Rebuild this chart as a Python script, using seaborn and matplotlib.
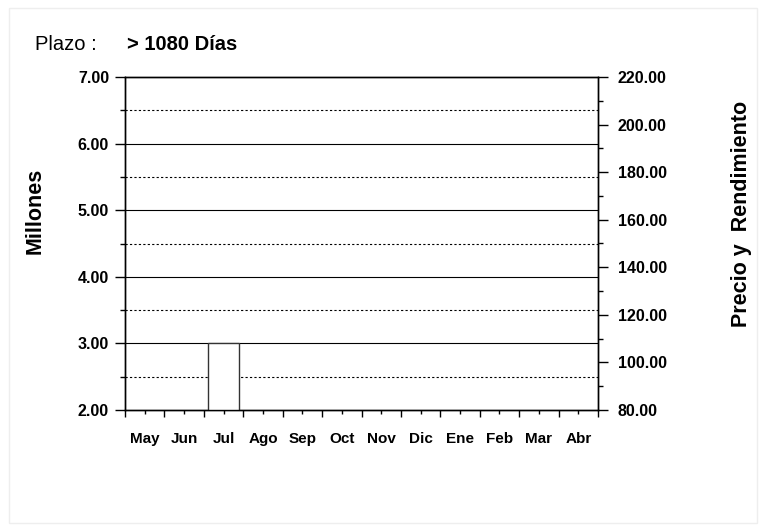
import matplotlib
matplotlib.use("Agg")
import matplotlib.pyplot as plt
import seaborn as sns
import pandas as pd
from matplotlib.ticker import MultipleLocator, FixedLocator
from matplotlib.patches import Rectangle

months = ['May', 'Jun', 'Jul', 'Ago', 'Sep', 'Oct', 'Nov', 'Dic', 'Ene', 'Feb', 'Mar', 'Abr']
millones = [0, 0, 3.0, 0, 0, 0, 0, 0, 0, 0, 0, 0]

sns.set_theme(style="white")
plt.rcParams['font.family'] = ['Liberation Sans', 'DejaVu Sans']
plt.rcParams['text.color'] = 'black'
plt.rcParams['axes.labelcolor'] = 'black'
plt.rcParams['xtick.color'] = 'black'
plt.rcParams['ytick.color'] = 'black'

df = pd.DataFrame({'mes': months, 'millones': millones})

fig = plt.figure(figsize=(7.65, 5.31), dpi=100)
fig.patches.append(Rectangle((9 / 765, 8 / 531), 748 / 765, 515 / 531, transform=fig.transFigure,
                             fill=False, edgecolor='#eeeeee', linewidth=1))
ax = fig.add_axes([125 / 765, 1 - 410 / 531, 473 / 765, 333 / 531])

sns.barplot(data=df, x='mes', y='millones', ax=ax, color='white', edgecolor='#333333',
            linewidth=1, width=0.8, zorder=3)

ax.set_xlim(-0.5, 11.5)
ax.set_ylim(2, 7)

# grid: solid on integers, dotted on halves
for v in [3, 4, 5, 6]:
    ax.axhline(v, color='black', linewidth=0.8, zorder=1)
for v in [2.5, 3.5, 4.5, 5.5, 6.5]:
    ax.axhline(v, color='black', linewidth=0.8, linestyle=(0, (2, 2)), zorder=1)

for s in ax.spines.values():
    s.set_color('black')
    s.set_linewidth(1)

ax.yaxis.set_major_locator(MultipleLocator(1))
ax.yaxis.set_minor_locator(MultipleLocator(0.5))
ax.set_yticklabels([f'{v:.2f}' for v in ax.get_yticks()])
ax.tick_params(axis='y', which='major', left=True, length=7.2, width=1,
               labelsize=11.5, pad=4.3)
ax.tick_params(axis='y', which='minor', left=True, length=3.6, width=1)

ax.xaxis.set_major_locator(FixedLocator([i - 0.5 for i in range(13)]))
ax.xaxis.set_minor_locator(FixedLocator(list(range(12))))
ax.set_xticklabels([''] * 13)
ax.set_xticks(range(12), labels=months, minor=True)
ax.tick_params(axis='x', which='major', bottom=True, length=5, width=1)
ax.tick_params(axis='x', which='minor', bottom=True, length=3, width=1,
               labelsize=11, pad=13)
for lab in ax.get_xticklabels(minor=True) + ax.get_yticklabels():
    lab.set_fontweight('bold')

ax.set_xlabel('')
ax.set_ylabel('')

ax2 = ax.twinx()
ax2.set_ylim(80, 220)
ax2.yaxis.set_major_locator(MultipleLocator(20))
ax2.yaxis.set_minor_locator(MultipleLocator(10))
ax2.set_yticklabels([f'{v:.2f}' for v in ax2.get_yticks()])
ax2.tick_params(axis='y', which='major', right=True, length=7.2, width=1,
                labelsize=11.5, pad=7)
ax2.tick_params(axis='y', which='minor', right=True, length=3.6, width=1)
for lab in ax2.get_yticklabels():
    lab.set_fontweight('bold')
for s in ax2.spines.values():
    s.set_color('black')
    s.set_linewidth(1)
ax2.grid(False)

fig.text(35 / 765, 1 - 211 / 531, 'Millones', fontsize=15.5, fontweight='bold',
         rotation=90, ha='center', va='center')
fig.text(741 / 765, 1 - 214 / 531, 'Precio y  Rendimiento', fontsize=15.5, fontweight='bold',
         rotation=90, ha='center', va='center')

fig.text(35 / 765, 1 - 45 / 531, 'Plazo :', fontsize=14.5, va='center', ha='left')
fig.text(127 / 765, 1 - 45 / 531, '> 1080 Días', fontsize=14.5, fontweight='bold',
         va='center', ha='left')

fig.savefig('out.png', dpi=100, facecolor='white')
